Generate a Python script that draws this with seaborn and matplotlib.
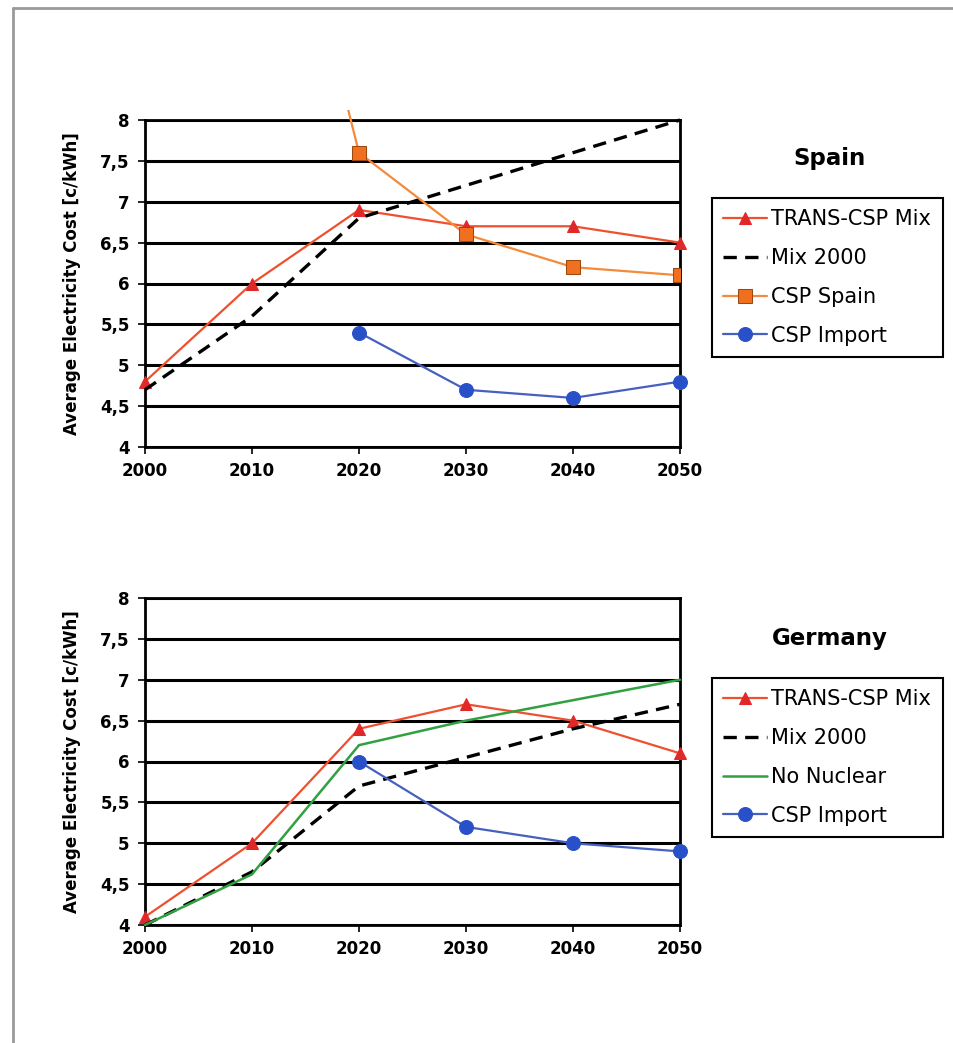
import numpy as np
import pandas as pd
import seaborn as sns
import matplotlib.pyplot as plt
from matplotlib.lines import Line2D
from matplotlib.patches import Rectangle
from matplotlib.ticker import FuncFormatter

years = [2000, 2010, 2020, 2030, 2040, 2050]

# Spain
es_trans = [4.8, 6.0, 6.9, 6.7, 6.7, 6.5]
es_mix2000 = [4.7, 5.6, 6.8, 7.2, 7.6, 8.0]
es_csp_spain = [np.nan, 12.8, 7.6, 6.6, 6.2, 6.1]
es_csp_import = [np.nan, np.nan, 5.4, 4.7, 4.6, 4.8]

# Germany
de_trans = [4.1, 5.0, 6.4, 6.7, 6.5, 6.1]
de_mix2000 = [4.0, 4.65, 5.7, 6.05, 6.4, 6.7]
de_no_nuclear = [4.0, 4.62, 6.2, 6.5, 6.75, 7.0]
de_csp_import = [np.nan, np.nan, 6.0, 5.2, 5.0, 4.9]

yticks = [4, 4.5, 5, 5.5, 6, 6.5, 7, 7.5, 8]

RED_LINE = "#EE5030"
RED_MARK = "#E02828"
ORANGE = "#F58A3A"
ORANGE_MARK = "#F07020"
BLUE = "#4660C0"
BLUE_MARK = "#2850C8"
GREEN = "#30A040"

sns.set_style("white")
plt.rcParams["font.family"] = ["DejaVu Sans"]
plt.rcParams["text.color"] = "black"
plt.rcParams["axes.labelcolor"] = "black"
plt.rcParams["xtick.color"] = "black"
plt.rcParams["ytick.color"] = "black"

fig = plt.figure(figsize=(9.54, 10.43), dpi=100)
ax1 = fig.add_axes([145 / 954, 1 - 447 / 1043, 535 / 954, 327 / 1043])
ax2 = fig.add_axes([145 / 954, 1 - 925 / 1043, 535 / 954, 327 / 1043])


def series(ax, vals, label, color, mcolor=None, marker=None, ms=9, dashed=False, lw=1.6, mec=None):
    df = pd.DataFrame({"year": years, "value": vals}).dropna()
    sns.lineplot(data=df, x="year", y="value", ax=ax, color=color, lw=lw,
                 marker=marker, markersize=ms,
                 markerfacecolor=mcolor if mcolor else color,
                 markeredgecolor=mec if mec else (mcolor if mcolor else color),
                 linestyle=(0, (4, 2.5)) if dashed else "-",
                 label=label, estimator=None, sort=True)


series(ax1, es_trans, "TRANS-CSP Mix", RED_LINE, RED_MARK, "^", 9)
series(ax1, es_mix2000, "Mix 2000", "black", dashed=True, lw=2.4)
series(ax1, es_csp_spain, "CSP Spain", ORANGE, ORANGE_MARK, "s", 10, mec="#9A4A10")
series(ax1, es_csp_import, "CSP Import", BLUE, BLUE_MARK, "o", 10)

series(ax2, de_trans, "TRANS-CSP Mix", RED_LINE, RED_MARK, "^", 9)
series(ax2, de_mix2000, "Mix 2000", "black", dashed=True, lw=2.4)
series(ax2, de_no_nuclear, "No Nuclear", GREEN, lw=1.8)
series(ax2, de_csp_import, "CSP Import", BLUE, BLUE_MARK, "o", 10)

# markers at the plot edges are drawn whole; the CSP Spain line runs
# a little above the plot area, as in the original
for ax in (ax1, ax2):
    for ln in ax.get_lines():
        if ln.get_label() == "CSP Spain":
            ln.set_clip_path(Rectangle((0, 0), 1, 1.032, transform=ax.transAxes))
        else:
            ln.set_clip_on(False)
        ln.set_zorder(3)

fmt = FuncFormatter(lambda v, p: ("%g" % v).replace(".", ","))
for ax in (ax1, ax2):
    ax.set_xlim(2000, 2050)
    ax.set_ylim(4, 8)
    ax.set_xticks(years)
    ax.set_yticks(yticks)
    ax.yaxis.set_major_formatter(fmt)
    ax.grid(axis="y", color="black", lw=2.2)
    ax.grid(axis="x", visible=False)
    ax.set_axisbelow(True)
    for s in ax.spines.values():
        s.set_color("black")
        s.set_linewidth(2)
    ax.tick_params(axis="both", which="major", direction="out", length=5, width=1.2,
                   color="black", labelsize=12, pad=6, bottom=True, left=True)
    for t in ax.get_xticklabels() + ax.get_yticklabels():
        t.set_fontweight("bold")
    ax.set_xlabel("")
    ax.set_ylabel("Average Electricity Cost [c/kWh]", fontsize=12, fontweight="bold", labelpad=14)

for ax, top, title, ttl_y in ((ax1, 198, "Spain", 158), (ax2, 678, "Germany", 638)):
    leg = ax.legend(loc="upper left", bbox_to_anchor=(712 / 954, 1 - top / 1043),
                    bbox_transform=fig.transFigure, borderaxespad=0, fontsize=15,
                    frameon=True, fancybox=False, framealpha=1, edgecolor="black",
                    handlelength=2.1, labelspacing=0.9, handletextpad=0.2,
                    borderpad=0.55)
    leg.get_frame().set_linewidth(1.5)
    for t in leg.get_texts():
        t.set_color("black")
    fig.text(830 / 954, 1 - ttl_y / 1043, title, ha="center", va="center",
             fontsize=16.5, fontweight="bold", color="black")

# grey page frame
fig.add_artist(Line2D([13 / 954, 1], [1 - 8 / 1043] * 2, color="#999999", lw=2))
fig.add_artist(Line2D([13 / 954] * 2, [0, 1 - 8 / 1043], color="#999999", lw=2))

fig.savefig("out.png", dpi=100, facecolor="white")
